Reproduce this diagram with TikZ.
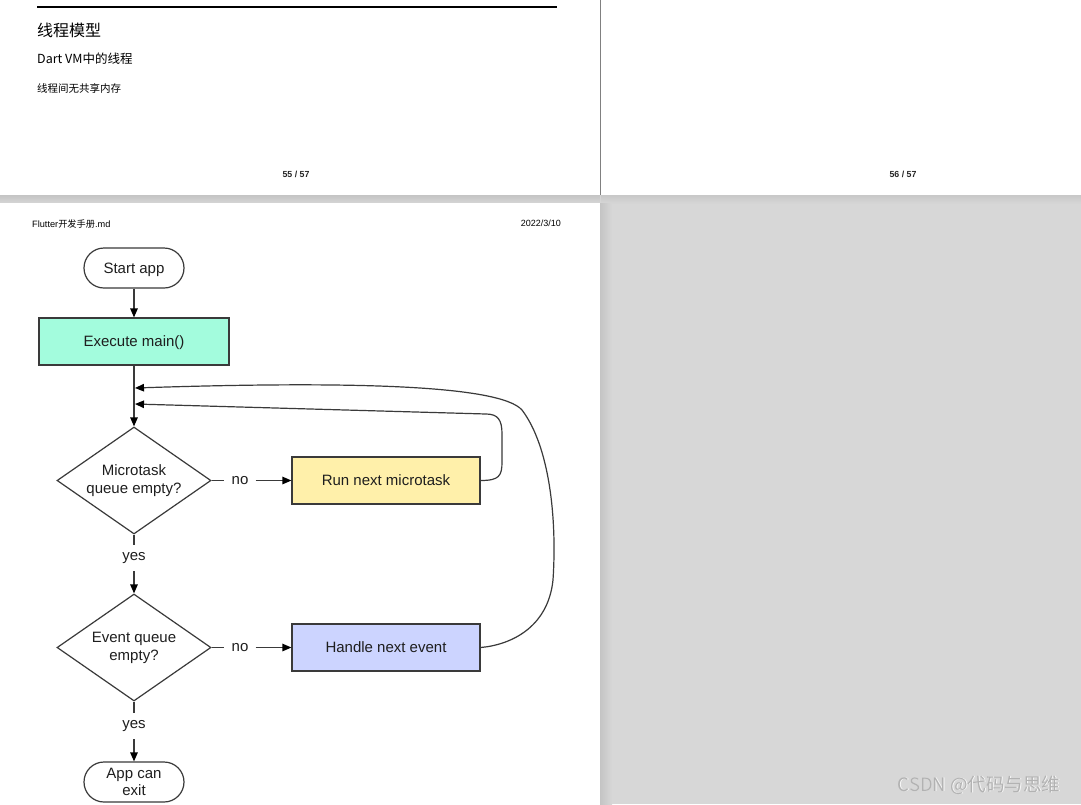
\documentclass[tikz,border=0pt]{standalone}
\usepackage{fontspec}
\setmainfont{Liberation Sans}
\newfontfamily\cjk{Noto Sans CJK SC}
\usetikzlibrary{shapes.geometric,arrows.meta}
\definecolor{pagegray}{RGB}{215,215,215}
\definecolor{bandgray}{RGB}{196,196,196}
\definecolor{linegray}{RGB}{58,58,58}
\definecolor{textgray}{RGB}{30,30,30}
\definecolor{mint}{RGB}{163,252,221}
\definecolor{sand}{RGB}{255,240,170}
\definecolor{lavender}{RGB}{204,212,255}
\definecolor{wmgray}{RGB}{178,178,178}
\tikzset{
  fc/.style={draw=linegray, line width=1.2pt, text=textgray, font=\fontsize{15}{18}\selectfont, align=center},
  stadium/.style={fc, rectangle, rounded corners=20pt, minimum width=100pt, minimum height=40pt, inner sep=0pt},
  procbox/.style={fc, rectangle, minimum width=188pt, minimum height=47pt, inner sep=0pt},
  decision/.style={fc, diamond, aspect=1.44, minimum width=154pt, minimum height=107pt, inner sep=0pt},
  lbl/.style={text=textgray, font=\fontsize{15}{18}\selectfont, inner xsep=7pt, inner ysep=7.5pt},
  conn/.style={draw=linegray, line width=1.2pt},
  arr/.style={conn, -{Triangle[length=9pt,width=7.5pt,color=black]}},
  pagetext/.style={text=black, inner sep=0pt},
  wmark/.style={font=\cjk\fontsize{18.5}{21}\selectfont, inner sep=0pt},
}
\begin{document}
\begin{tikzpicture}[x=1pt,y=-1pt]
\useasboundingbox (0,0) rectangle (1081,804);
% backgrounds
\fill[pagegray] (0,0) rectangle (1081,804);
\fill[white] (0,0) rectangle (600,195);
\fill[white] (601,0) rectangle (1081,195);
\shade[top color=bandgray, bottom color=pagegray!90!bandgray] (0,195) rectangle (600,203);
\shade[top color=bandgray!80!pagegray, bottom color=pagegray] (601,195) rectangle (1081,204);
\shade[left color=bandgray, right color=pagegray] (600,203) rectangle (612,804);
\fill[white] (0,203) rectangle (600,804);
\draw[black!50, line width=1pt] (600.5,0) -- (600.5,195);

% top-left page
\draw[black, line width=2pt] (37,7) -- (557,7);
\node[pagetext, anchor=west, font=\cjk\fontsize{16}{18}\selectfont] (title) at (37,30) {线程模型};
\node[pagetext, anchor=west, font=\cjk\fontsize{12.5}{14}\selectfont] (sub) at (37,59) {Dart VM中的线程};
\node[pagetext, anchor=west, font=\cjk\fontsize{10.5}{12}\selectfont] (note) at (37,88) {线程间无共享内存};
\node[pagetext, font=\bfseries\fontsize{8.8}{10}\selectfont, text=black!85] (pg55) at (296,174) {55 / 57};
\node[pagetext, font=\bfseries\fontsize{8.8}{10}\selectfont, text=black!85] (pg56) at (903,174) {56 / 57};

% bottom page header
\node[pagetext, anchor=west, font=\fontsize{9.2}{11}\selectfont] (hdr) at (32,224) {Flutter{\cjk 开发手册}.md};
\node[pagetext, anchor=east, font=\fontsize{9}{11}\selectfont] (date) at (561,223) {2022/3/10};

% flowchart
\node[stadium, text depth=0pt] (start) at (134,268) {Start app};
\node[procbox, fill=mint, minimum width=190pt, text depth=0pt] (exec) at (134,341.5) {Execute main()};
\node[decision] (micro) at (134,480.5) {Microtask\\queue empty?};
\node[procbox, fill=sand] (run) at (386,480.5) {Run next microtask};
\node[decision] (event) at (134,647.5) {Event queue\\empty?};
\node[procbox, fill=lavender] (handle) at (386,647.5) {Handle next event};
\node[stadium, font=\fontsize{15}{17}\selectfont] (exit) at (134,782) {App can\\exit};

\node[lbl] (no1) at (240,480.5) {no};
\node[lbl] (no2) at (240,647.5) {no};
\node[lbl] (yes1) at (134,558) {yes};
\node[lbl] (yes2) at (134,726) {yes};

\coordinate (m1) at (135,388);
\coordinate (m2) at (135,404);
\coordinate (o1) at (553,580);
\coordinate (o2) at (522,410);
\coordinate (i1) at (502,462);
\coordinate (i2) at (502,434);
\coordinate (i3) at (486,414);

\draw[arr] (start) -- (exec);
\draw[arr] (exec) -- (micro);
\draw[conn] (micro.east) -- (no1.west);
\draw[arr] (no1.east) -- (run.west);
\draw[conn] (micro.south) -- (yes1.north);
\draw[arr] (yes1.south) -- (event.north);
\draw[conn] (event.east) -- (no2.west);
\draw[arr] (no2.east) -- (handle.west);
\draw[conn] (event.south) -- (yes2.north);
\draw[arr] (yes2.south) -- (exit.north);

% loop back from microtask
\draw[arr] (run.east) .. controls (499,480.5) and (502,476) .. (i1) -- (i2)
  .. controls (502,420) and (498,414) .. (i3) -- (m2);
% loop back from event
\draw[arr] (handle.east) .. controls (510,645) and (548,628) .. (o1)
  .. controls (557,520) and (550,447) .. (o2)
  .. controls (500,385) and (350,381) .. (m1);

% watermark (embossed)
\node[wmark, text=white!85!pagegray] (wm2) at (979.8,785.8) {CSDN @代码与思维};
\node[wmark, text=wmgray] (wm3) at (979,785) {CSDN @代码与思维};
\end{tikzpicture}
\end{document}
